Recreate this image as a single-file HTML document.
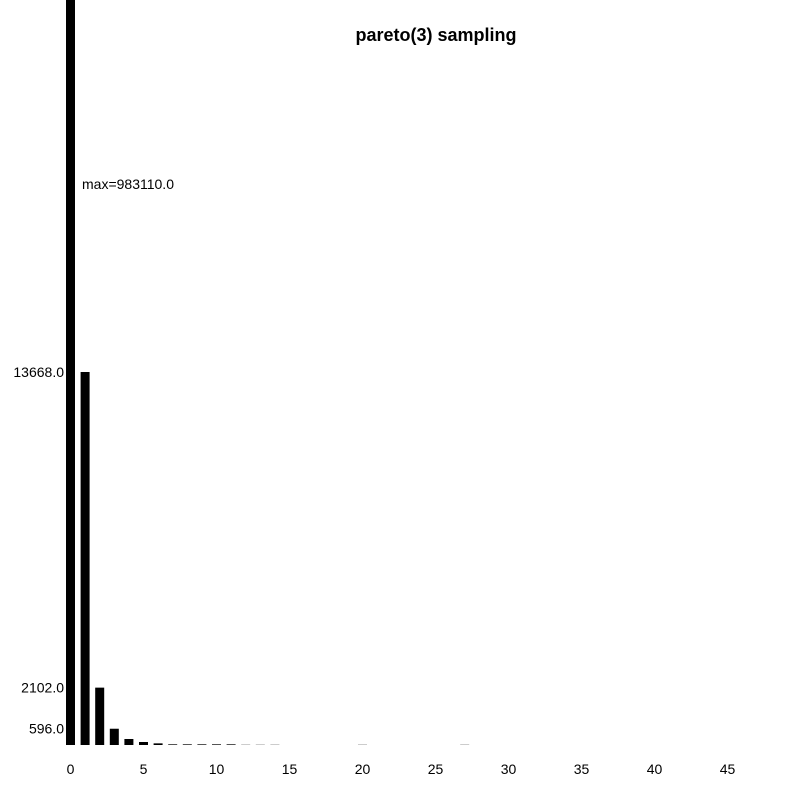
<!DOCTYPE html>
<html><head><meta charset="utf-8"><style>
body{margin:0;background:#fff;}
svg text{font-family:"Liberation Sans",Arial,sans-serif;}
</style></head><body>
<svg id="chart" width="800" height="800">
<text x="436" y="41" text-anchor="middle" font-size="18" font-weight="bold">pareto(3) sampling</text>
<g id="bars"></g><g id="xt"></g><g id="yl"></g>
</svg>
<script>
const categories=[0,1,2,3,4,5,6,7,8,9,10,11,12,13,14,15,16,17,18,19,20,21,22,23,24,25,26,27];
const values=[983110,13668,2102,596,220,110,60,35,25,18,13,10,8,6,5,0,0,0,0,0,2,0,0,0,0,0,0,2];
const xTicks=[0,5,10,15,20,25,30,35,40,45];
const labeled=[1,2,3];
const maxLabel="max=983110.0";
const NS="http://www.w3.org/2000/svg";
const base=745, k=373/13668;
const xc=i=>70.5+14.6*i;
const yv=v=>base-v*k;
function mk(t,a,p){const e=document.createElementNS(NS,t);for(const n in a)e.setAttribute(n,a[n]);p.appendChild(e);return e;}
const bars=document.getElementById('bars');
categories.forEach((c,i)=>{
  const v=values[i]; if(v<=0)return;
  let h=base-Math.max(yv(v),0); if(h<1)h=1;
  const col=v>=60?'#000':v>=10?'#555':'#ccc';
  const r=mk('rect',{x:xc(c)-4.5,y:base-h,width:9,height:h,fill:col},bars);
  
  
});
const xt=document.getElementById('xt');
xTicks.forEach(t=>{
  const e=mk('text',{x:xc(t),y:774,'text-anchor':'middle','font-size':14,fill:'#000'},xt);
  e.textContent=t;
  
  
});
const yl=document.getElementById('yl');
labeled.forEach(i=>{
  const e=mk('text',{x:64,y:yv(values[i])+5,'text-anchor':'end','font-size':14,fill:'#000'},yl);
  e.textContent=values[i].toFixed(1);
  
  
});
const m=mk('text',{x:82,y:189,'font-size':14,fill:'#000'},yl);
m.textContent=maxLabel;


</script>
</body></html>
